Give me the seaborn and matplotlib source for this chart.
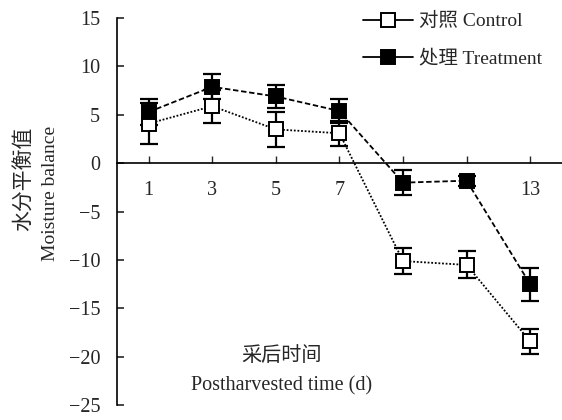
import numpy as np
import pandas as pd
import matplotlib
matplotlib.use('Agg')
import matplotlib.pyplot as plt
import seaborn as sns

# data
days = [1, 3, 5, 7, 9, 11, 13]
control = [4.1, 5.9, 3.5, 3.1, -10.1, -10.5, -18.4]
control_err = [2.1, 1.7, 1.8, 1.3, 1.3, 1.4, 1.3]
treatment = [5.3, 7.9, 6.9, 5.4, -2.0, -1.8, -12.5]
treatment_err = [1.3, 1.3, 1.2, 1.2, 1.3, 0.5, 1.7]
groups = ['对照 Control', '处理 Treatment']
xtick_labels = ['1', '3', '5', '7', '', '', '13']
yticks = [-25, -20, -15, -10, -5, 0, 5, 10, 15]

df = pd.DataFrame({
    'day': days * 2,
    'value': control + treatment,
    'group': [groups[0]] * len(days) + [groups[1]] * len(days),
})

sns.set_style('white')
plt.rcParams['font.family'] = ['Liberation Serif', 'Noto Sans CJK SC']
plt.rcParams['axes.unicode_minus'] = True

fig = plt.figure(figsize=(5.62, 4.2), dpi=100)
ax = fig.add_axes([0.208, 0.035, 0.792, 0.922])

# error bars first so the markers sit on top
for vals, errs in [(control, control_err), (treatment, treatment_err)]:
    ax.errorbar(days, vals, yerr=errs, fmt='none', ecolor='black',
                elinewidth=1.6, capsize=6.5, capthick=1.6, zorder=2)

sns.lineplot(data=df, x='day', y='value', hue='group', style='group',
             palette=['black', 'black'], markers=['s', 's'],
             dashes=[(1, 1), (3, 1.5)], markersize=10, linewidth=1.3,
             ax=ax, zorder=3)

# white face for control markers
lines = [l for l in ax.get_lines() if l.get_marker() == 's']
lines[0].set_markerfacecolor('white')
lines[1].set_markerfacecolor('black')
for l in lines:
    l.set_markeredgecolor('black')
    l.set_markeredgewidth(1.4)

ax.set_xlim(0, 14)
ax.set_ylim(-25, 15)
ax.set_yticks(yticks)
ax.set_xticks(days)
ax.set_xticklabels(xtick_labels)
ax.spines['left'].set_position(('data', 0))
ax.spines['bottom'].set_position(('data', 0))
ax.spines['top'].set_visible(False)
ax.spines['right'].set_visible(False)
for s in ['left', 'bottom']:
    ax.spines[s].set_color('black')
    ax.spines[s].set_linewidth(1.2)
ax.tick_params(axis='y', left=True, direction='in', length=5, width=1.2,
               labelsize=14.5, pad=12)
ax.tick_params(axis='x', bottom=True, direction='in', length=5, width=1.0,
               labelsize=14.5, pad=13)
ax.set_xlabel('')
ax.set_ylabel('')

leg = ax.legend(loc='upper right', bbox_to_anchor=(0.995, 1.06), frameon=False,
                fontsize=14, handlelength=2.6, handletextpad=0.3, labelspacing=1.0)
handles = leg.legend_handles
handles[0].set_markerfacecolor('white')
handles[1].set_markerfacecolor('black')
for h in handles:
    h.set_markeredgecolor('black')
    h.set_markeredgewidth(1.4)
    h.set_linestyle('-')
    h.set_linewidth(1.3)

ax.text(0.37, 0.125, '采后时间', transform=ax.transAxes, ha='center', va='center', fontsize=14.5)
ax.text(0.37, 0.05, 'Postharvested time (d)', transform=ax.transAxes, ha='center',
        va='center', fontsize=14.5)
fig.text(0.045, 0.575, '水分平衡值', rotation=90, ha='center', va='center', fontsize=15)
fig.text(0.09, 0.54, 'Moisture balance', rotation=90, ha='center', va='center', fontsize=14)

fig.savefig('out.png', dpi=100)
